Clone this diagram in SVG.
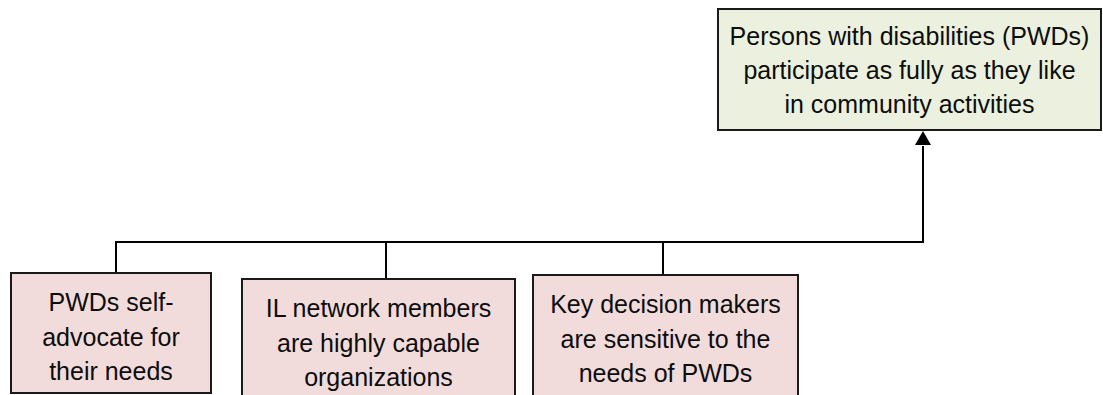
<svg xmlns="http://www.w3.org/2000/svg" width="1103" height="395" viewBox="0 0 1103 395">
<style>
.box{stroke:#1a1a1a;stroke-width:2}
.goal{fill:#ebf1de}
.out{fill:#f2dcdb}
.t{font-family:"Liberation Sans",Arial,sans-serif;font-size:25px;fill:#0d0d0d;text-anchor:middle}
.c{fill:none;stroke:#000;stroke-width:2}
</style>
<rect width="1103" height="395" fill="#fff"/>
<g id="connectors">
<path class="c" d="M116,273 V242 H923 V146"/>
<path d="M915,145 L923,131 L931,145 z" fill="#000"/>
<path class="c" d="M386,242 V279"/>
<path class="c" d="M663,242 V275"/>
</g>
<g id="goal">
<rect class="box goal" x="718" y="9" width="383" height="121"/>
<text class="t" x="909.5" y="45">Persons with disabilities (PWDs)</text>
<text class="t" x="909.5" y="79">participate as fully as they like</text>
<text class="t" x="909.5" y="113">in community activities</text>
</g>
<g id="outcome1">
<rect class="box out" x="11" y="273" width="200" height="120"/>
<text class="t" x="111" y="311">PWDs self-</text>
<text class="t" x="111" y="346">advocate for</text>
<text class="t" x="111" y="380">their needs</text>
</g>
<g id="outcome2">
<rect class="box out" x="242" y="279" width="273" height="130"/>
<text class="t" x="378.5" y="317">IL network members</text>
<text class="t" x="378.5" y="352">are highly capable</text>
<text class="t" x="378.5" y="386">organizations</text>
</g>
<g id="outcome3">
<rect class="box out" x="533" y="275" width="265" height="130"/>
<text class="t" x="665.5" y="313">Key decision makers</text>
<text class="t" x="665.5" y="348">are sensitive to the</text>
<text class="t" x="665.5" y="382">needs of PWDs</text>
</g>
</svg>
